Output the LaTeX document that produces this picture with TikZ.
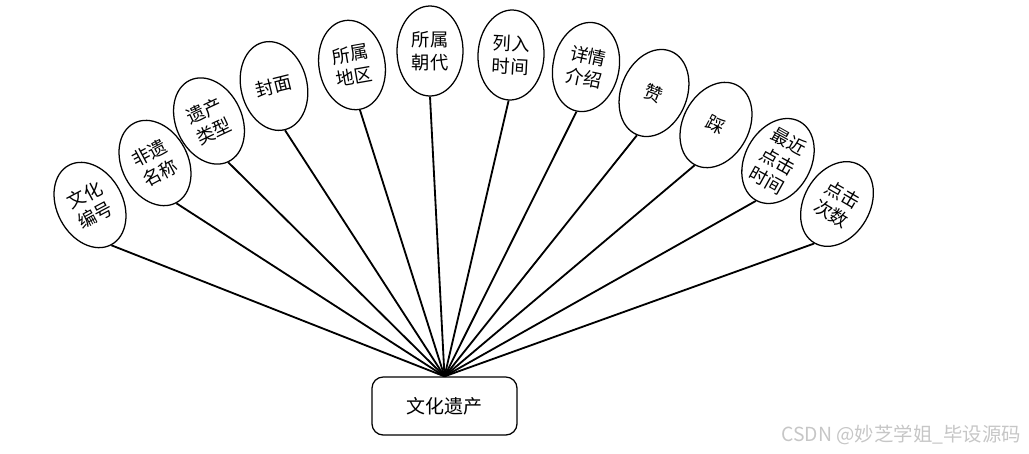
\documentclass[tikz,border=0pt]{standalone}
\usepackage{fontspec}
\newfontfamily\cjk{Noto Sans CJK SC}
\usepackage{tikz}
\usetikzlibrary{shapes.geometric}
\tikzset{
  attr/.style={draw, ellipse, line width=0.9pt, minimum width=16.5mm,
               minimum height=22.5mm, inner sep=0pt, align=center,
               font=\cjk\fontsize{13}{16}\selectfont},
  ent/.style={draw, rounded corners=2.8mm, line width=0.9pt,
              minimum width=36.25mm, minimum height=14.5mm,
              font=\cjk\fontsize{13.5}{16}\selectfont},
  link/.style={line width=1.3pt},
  wmark/.style={font=\cjk\fontsize{13.8}{16}\selectfont, text=gray!45, anchor=east},
}
\begin{document}
\begin{tikzpicture}[x=0.25mm, y=-0.25mm]
    \useasboundingbox (0,0) rectangle (1029,453);
    \node[ent] (heritage) at (444.5,406) {文化遗产};
    \node[attr, rotate=28] (code) at (90,205) {文化\\编号};
    \node[attr, rotate=28] (name) at (155,163) {非遗\\名称};
    \node[attr, rotate=25] (type) at (209,121) {遗产\\类型};
    \node[attr, rotate=14] (cover) at (274,86) {封面};
    \node[attr, rotate=10] (region) at (352,65) {所属\\地区};
    \node[attr] (dynasty) at (430,51) {所属\\朝代};
    \node[attr, rotate=-3] (listed) at (511,55) {列入\\时间};
    \node[attr, rotate=-12] (detail) at (586,67) {详情\\介绍};
    \node[attr, rotate=-22] (likes) at (654,93) {赞};
    \node[attr, rotate=-28] (dislikes) at (716,125) {踩};
    \node[attr, rotate=-29] (lastclick) at (778,161) {最近\\点击\\时间};
    \node[attr, rotate=-30] (clicks) at (837,204) {点击\\次数};
    \draw[link] (code.south) -- (heritage.north);
    \draw[link] (name.south) -- (heritage.north);
    \draw[link] (type.south) -- (heritage.north);
    \draw[link] (cover.south) -- (heritage.north);
    \draw[link] (region.south) -- (heritage.north);
    \draw[link] (dynasty.south) -- (heritage.north);
    \draw[link] (listed.south) -- (heritage.north);
    \draw[link] (detail.south) -- (heritage.north);
    \draw[link] (likes.south) -- (heritage.north);
    \draw[link] (dislikes.south) -- (heritage.north);
    \draw[link] (lastclick.south) -- (heritage.north);
    \draw[link] (clicks.south) -- (heritage.north);
    \node[wmark] (credit) at (1026,435) {CSDN @妙芝学姐\_毕设源码};
  \end{tikzpicture}
\end{document}
